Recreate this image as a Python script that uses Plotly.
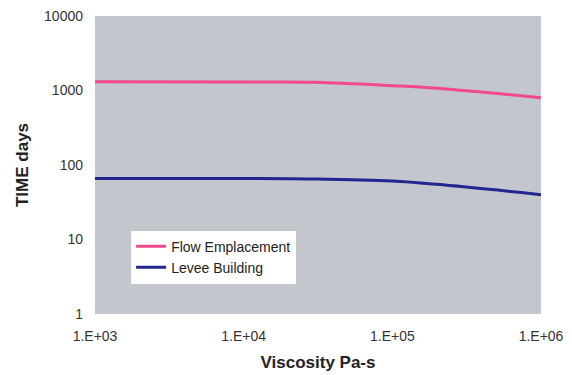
import plotly.graph_objects as go

viscosity = [1e3, 1e4, 3e4, 1e5, 2e5, 1e6]
flow_emplacement = [1310, 1300, 1290, 1160, 1070, 800]
levee_building = [66, 66, 65, 61, 55, 40]

x_tick_vals = [1e3, 1e4, 1e5, 1e6]
x_tick_text = ["1.E+03", "1.E+04", "1.E+05", "1.E+06"]
y_tick_vals = [1, 10, 100, 1000, 10000]
y_tick_text = ["1", "10", "100", "1000", "10000"]

fig = go.Figure()
fig.add_trace(go.Scatter(x=viscosity, y=flow_emplacement, mode="lines",
                         name="Flow Emplacement",
                         line=dict(color="#F2498B", width=3, shape="spline")))
fig.add_trace(go.Scatter(x=viscosity, y=levee_building, mode="lines",
                         name="Levee Building",
                         line=dict(color="#22268F", width=3, shape="spline")))

font_family = "Liberation Sans, Arial, sans-serif"
fig.update_layout(
    width=564, height=367,
    margin=dict(l=87, r=31, t=8, b=61, autoexpand=False),
    paper_bgcolor="white",
    plot_bgcolor="#C3C6CD",
    font=dict(family=font_family, size=14, color="#333333"),
    showlegend=True,
    legend=dict(x=0.081, y=0.28, xanchor="left", yanchor="top",
                bgcolor="white", font=dict(size=14, color="#222222"),
                tracegroupgap=0, borderwidth=0),
    xaxis=dict(type="log", range=[3, 6], tickvals=x_tick_vals, ticktext=x_tick_text,
               showgrid=False, zeroline=False, showline=False, ticks="",
               ticklabelstandoff=12, ticklabeloverflow="allow",
               tickfont=dict(size=14, color="#333333"),
               title=dict(text="<b>Viscosity Pa-s</b>", font=dict(size=17, color="#222222"), standoff=13)),
    yaxis=dict(type="log", range=[0, 4], tickvals=y_tick_vals, ticktext=y_tick_text,
               showgrid=False, zeroline=False, showline=False, ticks="",
               ticklabelstandoff=11, ticklabeloverflow="allow",
               tickfont=dict(size=14, color="#333333"),
               title=dict(text="<b>TIME days</b>", font=dict(size=17, color="#222222"), standoff=11)),
)

fig.write_html("out.html")
